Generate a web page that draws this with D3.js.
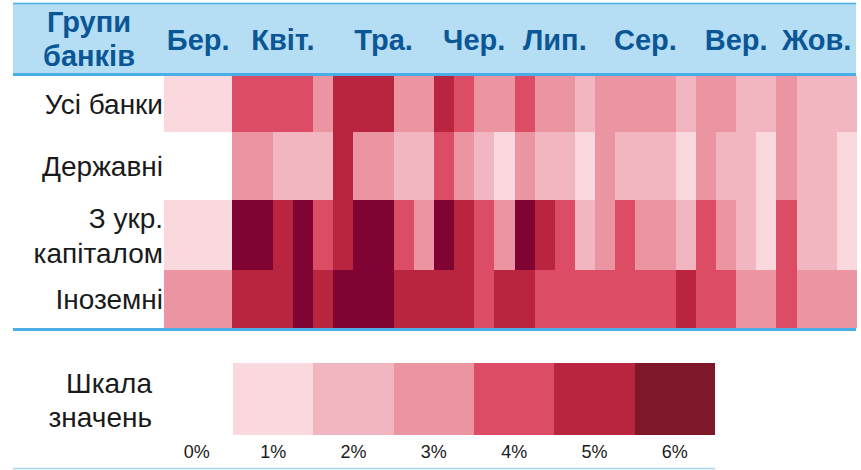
<!DOCTYPE html>
<html>
<head>
<meta charset="utf-8">
<script src="https://cdn.jsdelivr.net/npm/d3@7"></script>
<style>
  body { margin: 0; background: #fff; }
  svg { display: block; font-family: "Liberation Sans", Arial, sans-serif; }
</style>
</head>
<body>
<div id="chart"></div>
<script>
// groups of banks (rows), label lines for each
const groups = ["Усі банки", "Державні", "З укр. капіталом", "Іноземні"];
const groupLines = [["Усі банки"], ["Державні"], ["З укр.", "капіталом"], ["Іноземні"]];

// first column is March as a whole, then 31 weeks April..October
const marchLabel = "Бер.";
const months = ["Квіт.", "Тра.", "Чер.", "Лип.", "Сер.", "Вер.", "Жов."];
const monthLabelWeek = [2.5, 7.5, 12, 16, 20.5, 25, 29]; // where the month label sits, in weeks

// values, %
const marchValues = [0.6, null, 0.7, 2.4];
const allBanks = [3.6, 3.7, 3.5, 3.4, 2.6, 4.4, 4.6, 4.5, 2.7, 2.5, 4.3, 3.6, 2.8, 2.6, 3.5, 2.7, 2.6, 1.8, 2.5, 2.6, 2.7, 2.5, 1.7, 2.6, 2.5, 1.8, 1.6, 2.5, 1.7, 1.6, 1.8];
const stateBanks = [2.6, 2.5, 1.7, 1.6, 1.8, 4.2, 2.6, 2.5, 1.7, 1.5, 3.4, 2.5, 1.6, 0.8, 2.4, 1.7, 1.6, 0.9, 2.5, 1.6, 1.7, 1.5, 0.8, 2.4, 1.6, 1.5, 0.8, 2.6, 1.7, 1.5, 0.9];
const domesticBanks = [6.5, 6.8, 4.6, 6.3, 3.5, 4.4, 6.6, 6.4, 3.6, 2.5, 6.2, 4.5, 3.4, 2.6, 6.3, 4.4, 3.5, 1.7, 2.6, 3.4, 2.7, 2.5, 1.8, 3.5, 2.6, 1.6, 0.9, 3.4, 1.7, 1.6, 0.8];
const foreignBanks = [4.5, 4.4, 4.6, 6.2, 4.3, 6.4, 6.6, 6.3, 4.5, 4.4, 4.6, 4.3, 3.6, 4.4, 4.5, 3.6, 3.5, 3.4, 3.6, 3.5, 3.4, 3.6, 4.3, 3.5, 3.4, 2.6, 2.5, 3.5, 2.6, 2.5, 2.4];
const series = [allBanks, stateBanks, domesticBanks, foreignBanks];

// colour classes
const thresholds = [1, 2, 3, 4, 5, 6];
const classColors = ["#f9d9de", "#f2b6c1", "#eb94a2", "#dd4c65", "#b9243f", "#7e1729", "#7f0333"];
const legendTicks = ["0%", "1%", "2%", "3%", "4%", "5%", "6%"];

// layout
const width = 861, height = 470;
const rowWeights = [56, 68, 70, 58];
const headerTop = 3, headerBottom = 76, tableBottom = 328;
const tableLeft = 13, tableRight = 857;
const marchWeeks = 3.4, nWeeks = allBanks.length;
const headColor = "#0b5796";

const svg = d3.select("#chart").append("svg")
  .attr("width", width)
  .attr("height", height);

const color = d3.scaleThreshold().domain(thresholds).range(classColors);

const x = d3.scaleLinear()
  .domain([-marchWeeks, nWeeks])
  .range([164, tableRight]);

// rows of varying height
const cum = [0];
rowWeights.forEach(w => cum.push(cum[cum.length - 1] + w));
const y = d3.scaleLinear().domain([0, cum[cum.length - 1]]).range([headerBottom, tableBottom]);

// header band
svg.append("rect")
  .attr("x", tableLeft).attr("y", headerTop)
  .attr("width", tableRight - 1 - tableLeft).attr("height", headerBottom - headerTop)
  .attr("fill", "#b5ddf3");
svg.append("line")
  .attr("x1", tableLeft).attr("x2", tableRight - 1)
  .attr("y1", headerTop + 0.5).attr("y2", headerTop + 0.5)
  .attr("stroke", "#4aaee6").attr("stroke-width", 1.5);
svg.append("line")
  .attr("x1", tableLeft).attr("x2", tableRight - 1)
  .attr("y1", headerBottom - 1.5).attr("y2", headerBottom - 1.5)
  .attr("stroke", "#4aaee6").attr("stroke-width", 3);

// header texts
const head = svg.append("g")
  .attr("font-weight", "bold")
  .attr("font-size", 29)
  .attr("fill", headColor)
  .attr("text-anchor", "middle");
head.append("text").attr("x", 89).attr("y", 32).text("Групи");
head.append("text").attr("x", 89).attr("y", 66).text("банків");
head.append("text").attr("x", x(-marchWeeks / 2)).attr("y", 50).text(marchLabel);
head.selectAll(".month")
  .data(months)
  .enter().append("text")
  .attr("class", "month")
  .attr("x", (d, i) => x(monthLabelWeek[i]))
  .attr("y", 50)
  .text(d => d);

// cells
const cells = [];
series.forEach((vals, r) => {
  cells.push({ r, x0: -marchWeeks, x1: 0, v: marchValues[r] });
  vals.forEach((v, i) => cells.push({ r, x0: i, x1: i + 1, v }));
});

svg.append("g")
  .attr("shape-rendering", "crispEdges")
  .selectAll("rect")
  .data(cells)
  .enter().append("rect")
  .attr("x", d => Math.round(x(d.x0)))
  .attr("y", d => Math.round(y(cum[d.r])))
  .attr("width", d => Math.round(x(d.x1)) - Math.round(x(d.x0)))
  .attr("height", d => Math.round(y(cum[d.r + 1])) - Math.round(y(cum[d.r])))
  .attr("fill", d => d.v == null ? "#fff" : color(d.v));

// row labels
const rowLab = svg.append("g")
  .attr("font-size", 28)
  .attr("fill", "#1a1a1a")
  .attr("text-anchor", "end");
groupLines.forEach((lines, r) => {
  const mid = (y(cum[r]) + y(cum[r + 1])) / 2;
  lines.forEach((t, k) => {
    rowLab.append("text")
      .attr("x", 163)
      .attr("y", mid + 10 + (k - (lines.length - 1) / 2) * 35)
      .text(t);
  });
});

// table bottom line
svg.append("line")
  .attr("x1", tableLeft).attr("x2", tableRight - 1)
  .attr("y1", tableBottom + 1.5).attr("y2", tableBottom + 1.5)
  .attr("stroke", "#4aaee6").attr("stroke-width", 3);

// legend
const lx = d3.scaleLinear().domain([0, thresholds.length]).range([233, 715]);
const legend = svg.append("g");
legend.append("g")
  .attr("shape-rendering", "crispEdges")
  .selectAll("rect")
  .data(d3.range(thresholds.length))
  .enter().append("rect")
  .attr("x", d => Math.round(lx(d)))
  .attr("y", 363)
  .attr("width", d => Math.round(lx(d + 1)) - Math.round(lx(d)))
  .attr("height", 72)
  .attr("fill", d => color(d + 0.5));

legend.append("text").attr("x", 152).attr("y", 393)
  .attr("text-anchor", "end").attr("font-size", 28).attr("fill", "#1a1a1a").text("Шкала");
legend.append("text").attr("x", 152).attr("y", 427)
  .attr("text-anchor", "end").attr("font-size", 28).attr("fill", "#1a1a1a").text("значень");

legend.selectAll(".tick")
  .data(legendTicks)
  .enter().append("text")
  .attr("class", "tick")
  .attr("x", (d, i) => lx(i - 0.5) + (i === 0 ? 4 : 0))
  .attr("y", 458)
  .attr("text-anchor", "middle")
  .attr("font-size", 18)
  .attr("fill", "#1a1a1a")
  .text(d => d);

svg.append("line")
  .attr("x1", tableLeft).attr("x2", 715)
  .attr("y1", 468.5).attr("y2", 468.5)
  .attr("stroke", "#a6d6f0").attr("stroke-width", 1.5);
</script>
</body>
</html>
